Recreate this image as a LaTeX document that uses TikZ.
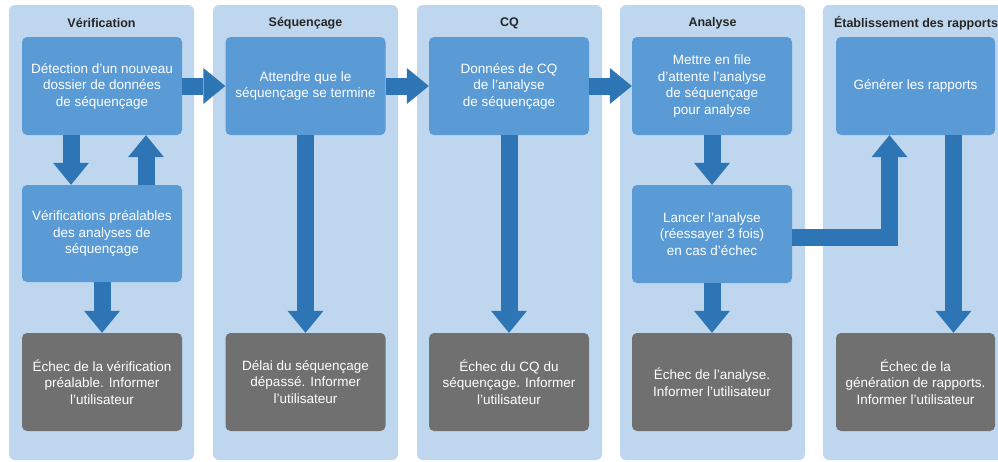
\documentclass[tikz,border=0pt]{standalone}
\usepackage{fontspec}
\setmainfont{Liberation Sans}
\usetikzlibrary{arrows.meta,calc}
\definecolor{lanebg}{RGB}{190,215,238}
\definecolor{boxblue}{RGB}{91,155,213}
\definecolor{arrowblue}{RGB}{46,117,182}
\definecolor{failgray}{RGB}{112,112,112}
\begin{document}
\begin{tikzpicture}[x=1pt,y=-1pt,
  lane/.style={fill=lanebg, rounded corners=6pt},
  lanetitle/.style={font=\bfseries\fontsize{12.5}{14}\selectfont, text=black!85, inner sep=0pt},
  stepbox/.style={fill=boxblue, rounded corners=5pt, minimum width=160pt, minimum height=98pt, align=center, text=white, font=\fontsize{13.5}{16.5}\selectfont, inner sep=0pt},
  failbox/.style={stepbox, fill=failgray},
  bigarrow/.style={draw=arrowblue, line width=17pt, -{Triangle[length=22pt,width=36pt,line width=0pt]}}
]
\useasboundingbox (0,0) rectangle (998,461);
\fill[white] (0,0) rectangle (998,461);
% lanes
\fill[lane] (9,5) rectangle (194,460);
\fill[lane] (213,5) rectangle (398,460);
\fill[lane] (417,5) rectangle (602,460);
\fill[lane] (620,5) rectangle (805,460);
\fill[lane] (823,5) rectangle (1012,460);
% titles
\node[lanetitle] (t1) at (101.5,23) {Vérification};
\node[lanetitle] (t2) at (305.5,23) {Séquençage};
\node[lanetitle] (t3) at (509.5,23) {CQ};
\node[lanetitle] (t4) at (712.5,23) {Analyse};
\node[lanetitle] (t5) at (916,23) {Établissement des rapports};
% boxes
\node[stepbox] (det) at (102,86) {Détection d’un nouveau\\dossier de données\\de séquençage};
\node[stepbox, minimum height=97pt] (ver) at (102,233.5) {Vérifications préalables\\des analyses de\\séquençage};
\node[failbox] (f1) at (102,382) {Échec de la vérification\\préalable. Informer\\l’utilisateur};
\node[stepbox] (seq) at (305.5,86) {Attendre que le\\séquençage se termine};
\node[failbox] (f2) at (305.5,382) {Délai du séquençage\\dépassé. Informer\\l’utilisateur};
\node[stepbox] (cq) at (509,86) {Données de CQ\\de l’analyse\\de séquençage};
\node[failbox] (f3) at (509,382) {Échec du CQ du\\séquençage. Informer\\l’utilisateur};
\node[stepbox] (met) at (712,86) {Mettre en file\\d’attente l’analyse\\de séquençage\\pour analyse};
\node[stepbox] (lan) at (712,234) {Lancer l’analyse\\(réessayer 3 fois)\\en cas d’échec};
\node[failbox] (f4) at (712,382) {Échec de l’analyse.\\Informer l’utilisateur};
\node[stepbox, minimum width=159pt] (gen) at (915.5,86) {Générer les rapports};
\node[failbox, minimum width=159pt] (f5) at (915.5,382) {Échec de la\\génération de rapports.\\Informer l’utilisateur};
% arrows
\draw[bigarrow] (det.east) -- (seq.west);
\draw[bigarrow] (seq.east) -- (cq.west);
\draw[bigarrow] (cq.east) -- (met.west);
\draw[bigarrow] ($(det.south)+(-31,0)$) -- ($(ver.north)+(-31,0)$);
\draw[bigarrow] ($(ver.north)+(44,0)$) -- ($(det.south)+(44,0)$);
\draw[bigarrow] (ver.south) -- (f1.north);
\draw[bigarrow] (seq.south) -- (f2.north);
\draw[bigarrow] (cq.south) -- (f3.north);
\draw[bigarrow] (met.south) -- (lan.north);
\draw[bigarrow] (lan.south) -- (f4.north);
\draw[bigarrow] ($(lan.east)+(0,3)$) -| ($(gen.south)+(-26,0)$);
\draw[bigarrow] ($(gen.south)+(38,0)$) -- ($(f5.north)+(38,0)$);
\end{tikzpicture}
\end{document}
